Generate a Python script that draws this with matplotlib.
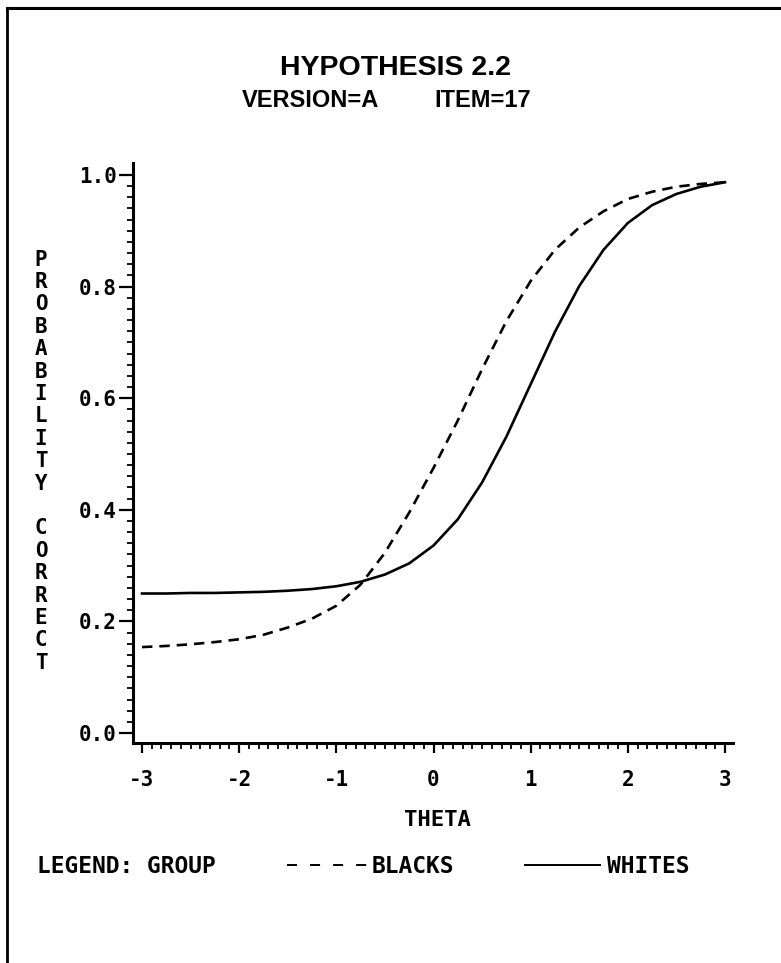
import matplotlib
matplotlib.use("Agg")
import matplotlib.pyplot as plt
from matplotlib.lines import Line2D
import numpy as np

# item characteristic curves (every 0.25 on theta)
theta = [-3.0, -2.75, -2.5, -2.25, -2.0, -1.75, -1.5, -1.25, -1.0, -0.75, -0.5, -0.25, 0.0,
         0.25, 0.5, 0.75, 1.0, 1.25, 1.5, 1.75, 2.0, 2.25, 2.5, 2.75, 3.0]
p_blacks = [0.154, 0.156, 0.159, 0.163, 0.168, 0.176, 0.189, 0.205, 0.228, 0.266, 0.323, 0.395, 0.475,
            0.560, 0.652, 0.738, 0.810, 0.866, 0.906, 0.935, 0.957, 0.970, 0.979, 0.984, 0.987]
p_whites = [0.250, 0.250, 0.251, 0.251, 0.252, 0.253, 0.255, 0.258, 0.263, 0.271, 0.284, 0.304, 0.336,
            0.383, 0.449, 0.531, 0.625, 0.719, 0.801, 0.866, 0.914, 0.946, 0.966, 0.979, 0.987]

x_ticks = [-3, -2, -1, 0, 1, 2, 3]
x_tick_labels = ["-3", "-2", "-1", "0", "1", "2", "3"]
y_ticks = [0.0, 0.2, 0.4, 0.6, 0.8, 1.0]
y_tick_labels = ["0.0", "0.2", "0.4", "0.6", "0.8", "1.0"]

plt.rcParams['lines.scale_dashes'] = False
plt.rcParams['axes.unicode_minus'] = False

MONO = "DejaVu Sans Mono"
W, H = 781, 963
fig = plt.figure(figsize=(W / 100, H / 100), dpi=100)
ax = fig.add_axes([133 / W, 1 - 743 / H, 600 / W, 580 / H])

ax.plot(theta, p_blacks, color="black", lw=1.9, dashes=(7.5, 5))
ax.plot(theta, p_whites, color="black", lw=1.9)

ax.set_xlim(-3.0926, 3.0823)
ax.set_ylim(-0.0179, 1.0215)

for s in ["top", "right"]:
    ax.spines[s].set_visible(False)
for s in ["left", "bottom"]:
    ax.spines[s].set_linewidth(2.2)

ax.set_xticks(x_ticks)
ax.set_xticklabels(x_tick_labels)
ax.set_xticks(np.arange(-30, 31) / 10, minor=True)
ax.set_yticks(y_ticks)
ax.set_yticklabels(y_tick_labels)
ax.set_yticks(np.arange(0, 51) / 50, minor=True)

ax.tick_params(axis="x", which="major", direction="out", length=7, width=1.6, pad=12.4, labelsize=15)
ax.tick_params(axis="x", which="minor", direction="out", length=4, width=1.3)
ax.tick_params(axis="y", which="major", direction="out", length=10, width=1.6, pad=1.5, labelsize=15)
ax.tick_params(axis="y", which="minor", direction="out", length=4, width=1.3)
for lab in ax.get_xticklabels() + ax.get_yticklabels():
    lab.set_fontfamily(MONO)
    lab.set_fontweight("bold")

# titles
fig.text(396 / W, 1 - 75 / H, "HYPOTHESIS 2.2", ha="center", va="baseline",
         fontsize=20.5, fontweight="bold", family="Liberation Sans")
fig.text(310 / W, 1 - 107 / H, "VERSION=A", ha="center", va="baseline",
         fontsize=17, fontweight="bold", family="Liberation Sans")
fig.text(483 / W, 1 - 107 / H, "ITEM=17", ha="center", va="baseline",
         fontsize=17, fontweight="bold", family="Liberation Sans")

# stacked y label
for i, ch in enumerate("PROBABILITY CORRECT"):
    if ch == " ":
        continue
    fig.text(41 / W, 1 - (265.5 + i * 22.4) / H, ch, ha="center", va="baseline",
             fontsize=15, fontweight="bold", family=MONO)

fig.text(437 / W, 1 - 826 / H, "THETA", ha="center", va="baseline",
         fontsize=16, fontweight="bold", family=MONO)

# legend line
fig.text(37 / W, 1 - 873 / H, "LEGEND: GROUP", ha="left", va="baseline",
         fontsize=16.5, fontweight="bold", family=MONO)
fig.add_artist(Line2D([287 / W, 367 / W], [1 - 865 / H] * 2, transform=fig.transFigure,
                      color="black", lw=1.4, dashes=(7.2, 9.4)))
fig.text(372 / W, 1 - 873 / H, "BLACKS", ha="left", va="baseline",
         fontsize=16.5, fontweight="bold", family=MONO)
fig.add_artist(Line2D([525 / W, 600 / W], [1 - 865 / H] * 2, transform=fig.transFigure,
                      color="black", lw=1.4))
fig.text(607 / W, 1 - 873 / H, "WHITES", ha="left", va="baseline",
         fontsize=16.5, fontweight="bold", family=MONO)

# page frame (top and left only)
fig.add_artist(Line2D([7 / W, 7 / W], [0, 1 - 8 / H], transform=fig.transFigure, color="black", lw=2))
fig.add_artist(Line2D([7 / W, 1], [1 - 8 / H, 1 - 8 / H], transform=fig.transFigure, color="black", lw=2.2))

fig.savefig("out.png", dpi=100)
